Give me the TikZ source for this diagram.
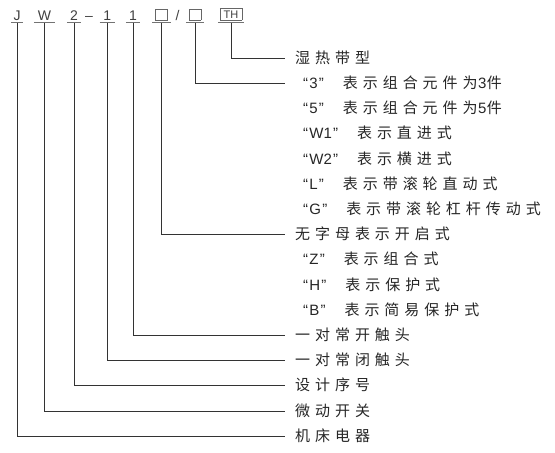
\documentclass[tikz,border=0pt]{standalone}
\usepackage{fontspec}
\usepackage{xcolor}
\setsansfont{Liberation Sans}
\newfontfamily\cjkfont{Noto Sans CJK SC}[LetterSpace=33]
\newfontfamily\latinfont{Liberation Sans}
\usetikzlibrary{positioning}
\tikzset{codechar/.style = {font=\sffamily\fontsize{14}{14}\selectfont, text=black!75,
		anchor=base, inner xsep=0pt, inner ysep=2.5pt, text depth=0pt, minimum width=#1},
	codechar/.default = 14pt,
	uline/.style = {draw=black!55, line width=0.8pt},
	leader/.style = {draw=black!80, line width=0.6pt, shorten >=10pt},
	lbl/.style = {font=\cjkfont\fontsize{15}{15}\selectfont, text=black!85, anchor=west,
		inner sep=0pt, text height=12.9pt, text depth=2.4pt}}
\setlength{\fboxsep}{0pt}
\NewDocumentCommand{\emptybox}{}{\fcolorbox{black!60}{white}{\rule{0pt}{10.5pt}\rule{11.5pt}{0pt}}}
\NewDocumentCommand{\thbox}{}{\fcolorbox{black!60}{white}{\rule{0pt}{11.5pt}\makebox[21.5pt]{\fontsize{11}{11}\selectfont\raisebox{1.6pt}{TH}}}}
\NewDocumentCommand{\q}{m}{\hspace*{8pt}{\latinfont “\kern1.2pt#1\kern1.2pt”}\hspace{19pt}}
\NewDocumentCommand{\dg}{m}{\kern0.5pt{\latinfont #1}\kern0.5pt}

\begin{document}
\begin{tikzpicture}[x=1pt, y=-1pt]
\useasboundingbox (0,0) rectangle (555,453);
% model code
\node[codechar=11pt] (cJ) at (17,20) {J};
\node[codechar=21pt] (cW) at (44.5,20) {W};
\node[codechar] (cTwo) at (74,20) {2};
\node[codechar=0pt] (cDash) at (89,20) {–};
\node[codechar=15pt] (cOneA) at (107.3,20) {1};
\node[codechar] (cOneB) at (133,20) {1};
\node[codechar=18pt] (cBoxA) at (161.5,20) {\emptybox};
\node[codechar=0pt] (cSlash) at (177.5,20) {/};
\node[codechar=18pt] (cBoxB) at (195,20) {\emptybox};
\node[codechar=26pt] (cTH) at (231,20) {\thbox};
\foreach \c in {cJ,cW,cTwo,cOneA,cOneB,cBoxA,cBoxB,cTH}
	\draw[uline] (\c.south west) -- (\c.south east);
% explanations
\foreach \txt [count=\i from 0] in {湿热带型, \q{3}表示组合元件为\dg{3}件, \q{5}表示组合元件为\dg{5}件,
		\q{W1}表示直进式, \q{W2}表示横进式, \q{L}表示带滚轮直动式, \q{G}表示带滚轮杠杆传动式,
		无字母表示开启式, \q{Z}表示组合式, \q{H}表示保护式, \q{B}表示简易保护式,
		一对常开触头, 一对常闭触头, 设计序号, 微动开关, 机床电器}
	\node[lbl] (l\i) at (295,58+25.2*\i) {\txt};
\foreach \c/\r in {cTH/0, cBoxB/1, cBoxA/7, cOneB/11, cOneA/12, cTwo/13, cW/14, cJ/15}
	\draw[leader] (\c.south) |- (l\r.west);
\end{tikzpicture}
\end{document}
